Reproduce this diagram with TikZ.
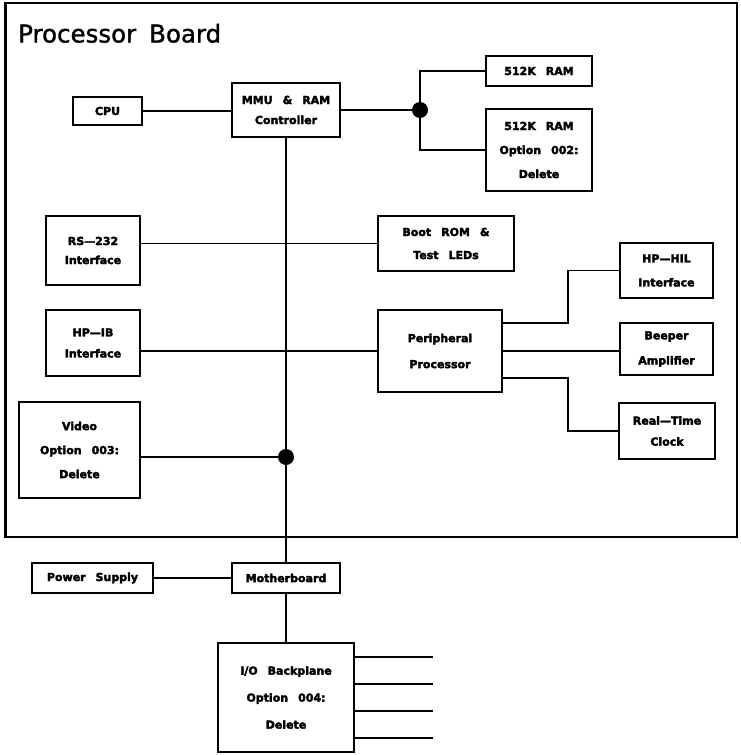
\documentclass[tikz,border=0pt]{standalone}
\usepackage{fontspec}
\setmainfont{DejaVu Sans}
\newfontfamily\boxfont{DejaVu Sans Bold}[FakeBold=3]
\newfontfamily\titlefont{DejaVu Sans}[FakeBold=1.2]
\newcommand\wg{\hspace{10pt}}
\usetikzlibrary{calc}
\begin{document}
\begin{tikzpicture}[x=1pt,y=-1pt,
  box/.style={draw,line width=2.6pt,inner sep=0pt,align=center,
    font=\boxfont\fontsize{11}{20}\selectfont},
  wire/.style={line width=1.8pt},
  jdot/.style={circle,fill,inner sep=0pt,minimum size=16pt},
  lead/.style={font=\boxfont\fontsize{11}{#1}\selectfont}]
\useasboundingbox (0,0) rectangle (741,755);
\fill[white] (0,0) rectangle (741,755);

% board outline
\node[draw,line width=2.8pt,inner sep=0pt,minimum width=731.5pt,minimum height=534pt] (board) at (371.25,270) {};
\node[anchor=base west,font=\titlefont\fontsize{24.5}{28}\selectfont,inner sep=0pt] (title) at (18,42.5) {Processor\hspace{13pt}Board};

% boxes
\node[box,minimum width=69pt,minimum height=28pt] (cpu) at (107.5,111) {CPU};
\node[box,lead=20,minimum width=108pt,minimum height=54pt] (mmu) at (286,110) {MMU\wg\&\wg RAM\\Controller};
\node[box,minimum width=106pt,minimum height=30pt] (ram1) at (539,71) {512K\wg RAM};
\node[box,lead=24,minimum width=106pt,minimum height=82pt] (ram2) at (539,150) {512K\wg RAM\\Option\wg 002:\\Delete};
\node[box,lead=19,minimum width=94pt,minimum height=69pt] (rs) at (93,250.5) {RS—232\\Interface};
\node[box,lead=23,minimum width=136pt,minimum height=55pt] (boot) at (446,243.5) {Boot\wg ROM\wg \&\\Test\wg LEDs};
\node[box,lead=21,minimum width=94pt,minimum height=66pt] (hpib) at (93,343) {HP—IB\\Interface};
\node[box,lead=26,minimum width=124pt,minimum height=82pt] (pp) at (440,351) {Peripheral\\Processor};
\node[box,lead=24,minimum width=93pt,minimum height=55pt] (hil) at (666.5,270.5) {HP—HIL\\Interface};
\node[box,lead=25,minimum width=93pt,minimum height=52pt] (beep) at (666.5,349) {Beeper\\Amplifier};
\node[box,lead=21,minimum width=96pt,minimum height=56pt] (rtc) at (667,431) {Real—Time\\Clock};
\node[box,lead=24,minimum width=121pt,minimum height=96pt] (video) at (79.5,450) {Video\\Option\wg 003:\\Delete};
\node[box,minimum width=121pt,minimum height=30pt] (psu) at (92.5,578) {Power\wg Supply};
\node[box,minimum width=108pt,minimum height=30pt] (mb) at (286,578) {Motherboard};
\node[box,lead=27,minimum width=136pt,minimum height=109pt] (io) at (286,697.5) {I/O\wg Backplane\\Option\wg 004:\\Delete};

% junctions
\node[jdot] (j1) at (420,110) {};
\node[jdot] (j2) at (286,457) {};

% connectors
\draw[wire] (cpu.east) -- (cpu.east -| mmu.west);
\draw[wire] (mmu.east |- j1) -- (j1);
\draw[wire] (j1.center) |- (ram1.west);
\draw[wire] (j1.center) |- (ram2.west);
\draw[wire] (mmu.south) -- (j2.center) -- (mb.north);
\draw[wire] (video.east |- j2) -- (j2.center);
\draw[wire] (rs.east |- boot.west) -- (boot.west);
\draw[wire] (hpib.east |- pp.west) -- (pp.west);
\draw[wire] ([yshift=28pt]pp.east) -- ++(65,0) |- (hil.west);
\draw[wire] (pp.east) -- (pp.east -| beep.west);
\draw[wire] ([yshift=-27pt]pp.east) -- ++(65,0) |- (rtc.west);
\draw[wire] (psu.east) -- (mb.west);
\draw[wire] (mb.south) -- (io.north);

\coordinate (s1) at (433,657);
\coordinate (s2) at (433,684);
\coordinate (s3) at (433,711);
\coordinate (s4) at (433,738);
\foreach \s in {s1,s2,s3,s4}
  \draw[wire] (io.east |- \s) -- (\s);
\end{tikzpicture}
\end{document}
